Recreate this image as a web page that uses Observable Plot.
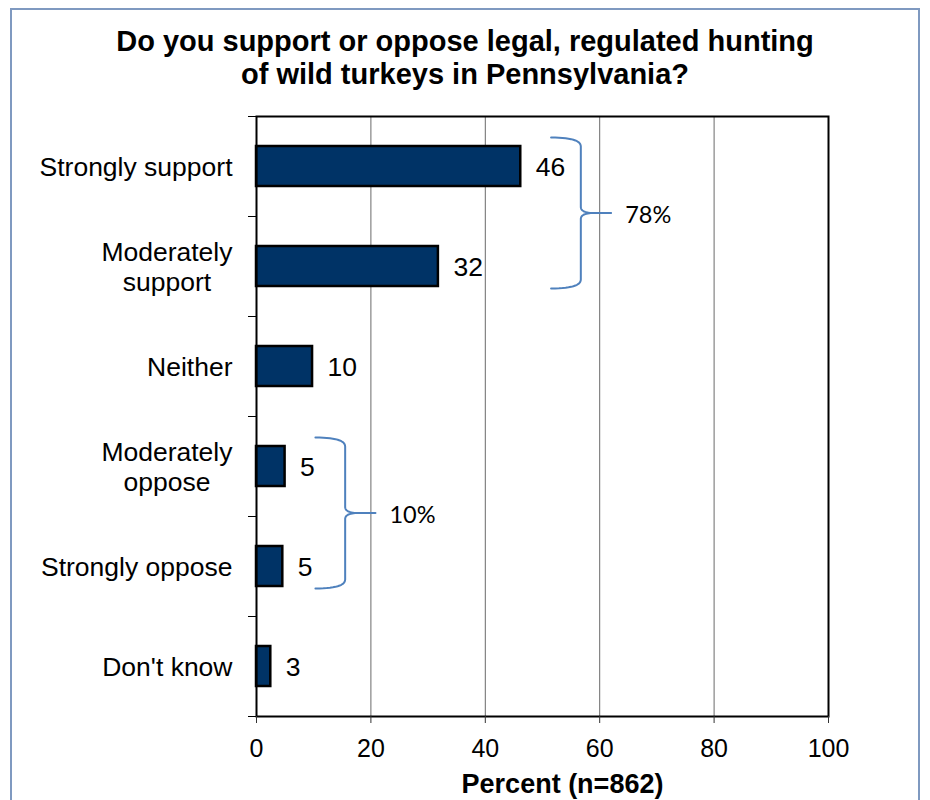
<!DOCTYPE html>
<html>
<head>
<meta charset="utf-8">
<script src="https://cdn.jsdelivr.net/npm/d3@7"></script>
<script src="https://cdn.jsdelivr.net/npm/@observablehq/plot@0.6"></script>
<style>
  html, body { margin: 0; padding: 0; background: #fff; }
  #wrap { position: relative; width: 930px; height: 800px; overflow: hidden; background: #fff; }
  #border { position: absolute; left: 10px; top: 8px; width: 910px; height: 820px; border: 2px solid #7f99c0; box-sizing: border-box; pointer-events: none; }
  #title { position: relative; width: 930px; height: 100px; box-sizing: border-box; padding-top: 25px;
           text-align: center; font-family: "Liberation Sans", Arial, sans-serif; font-weight: bold;
           font-size: 29px; line-height: 33px; color: #000; }
  #chart { position: relative; }
</style>
</head>
<body>
<div id="wrap">
  <div id="border"></div>
  <div id="title">Do you support or oppose legal, regulated hunting<br>of wild turkeys in Pennsylvania?</div>
  <div id="chart"></div>
</div>
<script>
// ---- data ----
const categories = ["Strongly support", "Moderately\nsupport", "Neither", "Moderately\noppose", "Strongly oppose", "Don't know"];
const percents = [46.2, 31.8, 9.8, 5.0, 4.6, 2.5];
const valueLabels = ["46", "32", "10", "5", "5", "3"];
const xTicks = [0, 20, 40, 60, 80, 100];
const xLabel = "Percent (n=862)";
const groupLabels = ["78%", "10%"];
const groupMembers = [["Strongly support", "Moderately\nsupport"], ["Moderately\noppose", "Strongly oppose"]];

// ---- derived table ----
const rows = categories.map((c, i) => ({cat: c, i, value: percents[i], label: valueLabels[i]}));
const boundaries = d3.range(-0.5, categories.length, 1);

// brace geometry derived from group members
function braceData() {
  const pts = [];
  const quad = (seg, p0, c, p1, n = 14) => {
    for (let k = 0; k <= n; k++) {
      const t = k / n, u = 1 - t;
      pts.push({seg, x: u*u*p0[0] + 2*u*t*c[0] + t*t*p1[0], y: u*u*p0[1] + 2*u*t*c[1] + t*t*p1[1]});
    }
  };
  const labels = [];
  groupMembers.forEach((mem, g) => {
    const idx = mem.map(m => categories.indexOf(m));
    const maxV = d3.max(idx, i => percents[i]);
    const x0 = maxV + 5.3, xv = x0 + 5.2, xt = xv + 5.3;
    const y0 = d3.min(idx) - 0.29, y1 = d3.max(idx) + 0.22, ym = (y0 + y1) / 2;
    const r = 0.09, rt = 0.06;
    const a = "u" + g, b = "l" + g;
    quad(a, [x0, y0], [xv, y0], [xv, y0 + r]);
    quad(a, [xv, ym - rt], [xv, ym], [xv + (xt - xv) * 0.45, ym]);
    pts.push({seg: a, x: xt, y: ym});
    quad(b, [xv + (xt - xv) * 0.45, ym], [xv, ym], [xv, ym + rt]);
    quad(b, [xv, y1 - r], [xv, y1], [x0, y1]);
    labels.push({x: xt, y: ym, text: groupLabels[g]});
  });
  return {pts, labels};
}
const braces = braceData();

// measure widest line of each category label for centered multi-line blocks
const catSize = 26.5;
const ctx = document.createElement("canvas").getContext("2d");
ctx.font = catSize + "px 'Liberation Sans'";
const catFont = "'Liberation Sans', Arial, sans-serif";

const catMarks = rows.map(r => {
  const lines = r.cat.split("\n");
  if (lines.length === 1) {
    return Plot.text([r], {x: () => 0, y: "i", text: "cat", textAnchor: "end", dx: -24,
      fontSize: catSize, fontFamily: catFont, lineHeight: 1.13, fill: "#000"});
  }
  const w = d3.max(lines, l => ctx.measureText(l).width);
  return Plot.text([r], {x: () => 0, y: "i", text: "cat", textAnchor: "middle", dx: -24 - w / 2,
    fontSize: catSize, fontFamily: catFont, lineHeight: 1.13, fill: "#000"});
});

const chart = Plot.plot({
  width: 930,
  height: 700,
  marginTop: 16,
  marginBottom: 84,
  marginLeft: 256,
  marginRight: 102,
  style: {background: "transparent", fontFamily: catFont, color: "#000"},
  x: {domain: [0, 100]},
  y: {domain: [5.5, -0.5]},
  marks: [
    Plot.ruleX(xTicks.slice(1, -1), {stroke: "#6a6a6a", strokeWidth: 1, strokeOpacity: 1}),
    Plot.rect(rows, {x1: () => 0, x2: "value", y1: d => d.i - 0.2, y2: d => d.i + 0.2,
      fill: "#003366", stroke: "#000", strokeWidth: 2.5}),
    Plot.frame({stroke: "#000", strokeWidth: 2}),
    Plot.axisX({ticks: xTicks, tickSize: 7, tickPadding: 16, fontSize: 25, label: null, stroke: "#333"}),
    Plot.axisY({ticks: boundaries, tickSize: 8, tickFormat: () => "", label: null, stroke: "#000"}),
    ...catMarks,
    Plot.text(rows, {x: "value", y: "i", text: "label", textAnchor: "start", dx: 15,
      fontSize: 26.5, fontFamily: catFont, lineHeight: 1.13, fill: "#000"}),
    Plot.text([xLabel], {frameAnchor: "bottom", text: d => d, dy: 76, dx: 20, lineAnchor: "bottom",
      fontSize: 27, fontWeight: "bold", fontFamily: catFont, fill: "#000"}),
    Plot.line(braces.pts, {x: "x", y: "y", z: "seg", stroke: "#4f81bd", strokeWidth: 2, curve: "linear"}),
    Plot.text(braces.labels, {x: "x", y: "y", text: "text", textAnchor: "start", dx: 14, dy: 1,
      fontSize: 23.5, fontFamily: "Lato, 'Open Sans', sans-serif", lineHeight: 1.15, fill: "#000"})
  ]
});
document.getElementById("chart").appendChild(chart);
</script>
</body>
</html>
